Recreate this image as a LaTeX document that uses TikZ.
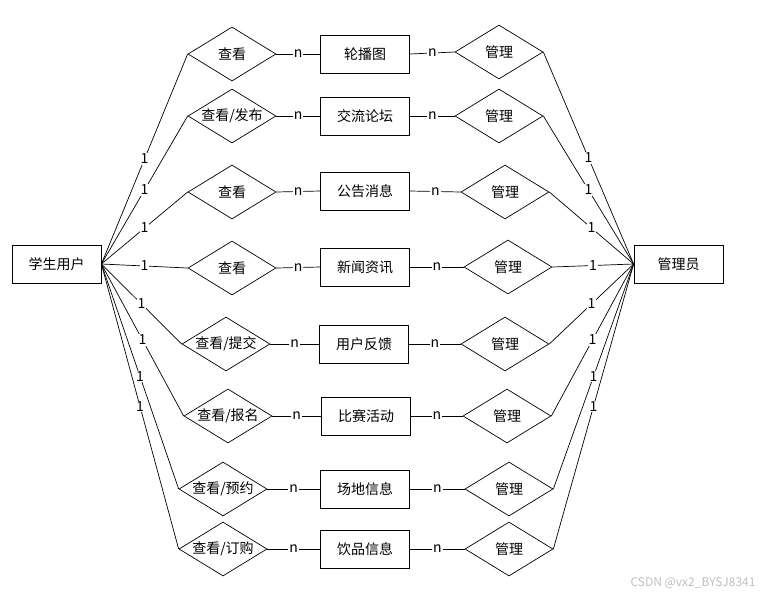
\documentclass[tikz,border=0pt]{standalone}
\usepackage{fontspec}
\setmainfont{Noto Sans CJK SC}
\usetikzlibrary{shapes.geometric}
\begin{document}
\begin{tikzpicture}[x=1pt,y=-1pt,
  ent/.style={draw,line width=0.8pt,minimum width=89pt,minimum height=38pt,inner sep=0pt,font=\fontsize{14}{16}\selectfont},
  rel/.style={draw,line width=0.7pt,diamond,minimum width=88pt,minimum height=54pt,inner sep=0pt,label={[font=\fontsize{14}{16}\selectfont]center:#1}},
  lbl/.style={fill=white,inner sep=1pt,font=\fontsize{14}{16}\selectfont},
  con/.style={line width=0.7pt}]
\useasboundingbox (0,0) rectangle (773,597);
\node[ent] (stu) at (56.5,264) {学生用户};
\node[ent] (adm) at (678.5,264) {管理员};
% row entities
\node[ent] (e1) at (365,54) {轮播图};
\node[ent] (e2) at (365,116) {交流论坛};
\node[ent] (e3) at (365,191) {公告消息};
\node[ent] (e4) at (365,267) {新闻资讯};
\node[ent] (e5) at (364,344) {用户反馈};
\node[ent] (e6) at (366,416) {比赛活动};
\node[ent] (e7) at (365,489) {场地信息};
\node[ent] (e8) at (365,549) {饮品信息};
% left relations
\node[rel=查看] (l1) at (232,54) {};
\node[rel=查看/发布] (l2) at (232,116) {};
\node[rel=查看] (l3) at (232,192) {};
\node[rel=查看] (l4) at (232,268) {};
\node[rel=查看/提交] (l5) at (226,344) {};
\node[rel=查看/报名] (l6) at (228,416) {};
\node[rel=查看/预约] (l7) at (223,489) {};
\node[rel=查看/订购] (l8) at (223,549) {};
% right relations
\node[rel=管理] (r1) at (499,52) {};
\node[rel=管理] (r2) at (499,116) {};
\node[rel=管理] (r3) at (505,192) {};
\node[rel=管理] (r4) at (508,267) {};
\node[rel=管理] (r5) at (505,344) {};
\node[rel=管理] (r6) at (507,416) {};
\node[rel=管理] (r7) at (509,489) {};
\node[rel=管理] (r8) at (509,549) {};
\foreach \i in {1,...,8}{
  \draw[con] (stu.east) -- node[lbl]{1} (l\i.west);
  \draw[con] (l\i.east) -- node[lbl]{n} (e\i.west);
  \draw[con] (e\i.east) -- node[lbl]{n} (r\i.west);
  \draw[con] (r\i.east) -- node[lbl]{1} (adm.west);
}
\node[text=black!25,font=\fontsize{12}{14}\selectfont,anchor=east] (wm) at (759,583) {CSDN @vx2\_BYSJ8341};
\end{tikzpicture}
\end{document}
